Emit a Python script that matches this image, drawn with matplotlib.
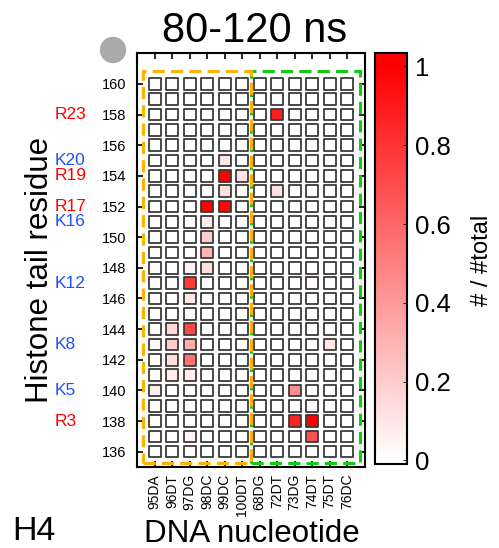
import numpy as np
import matplotlib
matplotlib.use('Agg')
import matplotlib.pyplot as plt
from matplotlib.colors import LinearSegmentedColormap, Normalize
from matplotlib.patches import Rectangle, Ellipse
from matplotlib.cm import ScalarMappable


# -------------------------------------------------------------------------
# Data
# -------------------------------------------------------------------------
nucleotides = ['95DA', '96DT', '97DG', '98DC', '99DC', '100DT',
               '68DG', '72DT', '73DG', '74DT', '75DT', '76DC']
residues = list(range(136, 161))

# non-zero contacts (residue, nucleotide, fraction)
hit_residue = [158, 158, 155, 154, 154, 153, 153, 153, 152, 152,
               151, 150, 149, 148, 148, 147, 147, 147, 146, 145,
               144, 144, 143, 143, 143, 143, 142, 142, 141, 141,
               140, 140, 140, 139, 138, 138, 137, 137]
hit_nucleotide = ['72DT', '73DG', '99DC', '99DC', '100DT', '99DC', '98DC', '72DT', '98DC', '99DC',
                  '98DC', '98DC', '98DC', '97DG', '98DC', '97DG', '96DT', '74DT', '97DG', '97DG',
                  '96DT', '97DG', '95DA', '96DT', '97DG', '75DT', '96DT', '97DG', '96DT', '97DG',
                  '95DA', '73DG', '74DT', '74DT', '73DG', '74DT', '97DG', '74DT']
hit_value = [0.88, 0.02, 0.10, 1.00, 0.12, 0.12, 0.01, 0.12, 1.00, 0.98,
             0.08, 0.20, 0.30, 0.05, 0.13, 0.78, 0.02, 0.03, 0.10, 0.03,
             0.16, 0.72, 0.02, 0.20, 0.32, 0.10, 0.13, 0.55, 0.07, 0.07,
             0.06, 0.45, 0.01, 0.03, 0.87, 1.00, 0.04, 0.68]

cbar_ticks = [0, 0.2, 0.4, 0.6, 0.8, 1]
cbar_ticklabels = ['0', '0.2', '0.4', '0.6', '0.8', '1']

tail_labels = ['R3', 'K5', 'K8', 'K12', 'K16', 'R17', 'R19', 'K20', 'R23']
tail_residue = [3, 5, 8, 12, 16, 17, 19, 20, 23]
tail_offset = 135


def main():
  plt.rcParams['font.family'] = ['Liberation Sans', 'DejaVu Sans']

  W, H = 499, 548
  fig = plt.figure(figsize=(W / 100, H / 100), dpi=100)

  def fx(px):
    return px / W

  def fy(py):
    return 1 - py / H

  # grid of values
  grid = np.zeros((len(residues), len(nucleotides)))
  for r, n, v in zip(hit_residue, hit_nucleotide, hit_value):
    grid[residues.index(r), nucleotides.index(n)] = v

  vmin, vmax = -0.01, 1.035
  p0 = (0 - vmin) / (vmax - vmin)
  p1 = (1 - vmin) / (vmax - vmin)
  cmap = LinearSegmentedColormap.from_list(
    'wr', [(0, 'white'), (p0, 'white'), (p1, '#ff0000'), (1, '#ff0000')])
  norm = Normalize(vmin=vmin, vmax=vmax)

  # -------------------------------------------------------------------------
  # Main panel
  # -------------------------------------------------------------------------
  ax = fig.add_axes([fx(137.3), fy(467), fx(364.7) - fx(137.3), fy(53.3) - fy(467)])
  xx, yy = np.meshgrid(np.arange(len(nucleotides)), residues)
  ax.scatter(xx.ravel(), yy.ravel(), c=grid.ravel(), cmap=cmap, norm=norm,
             marker='s', s=70, edgecolors='#3a3a3a', linewidths=1.3, zorder=2)

  ax.set_xlim(-1, 12)
  ax.set_ylim(135, 162)
  ax.set_xticks(range(len(nucleotides)))
  ax.set_xticklabels(nucleotides, rotation=90, fontsize=10)
  ax.set_yticks(residues[::2])
  ax.set_yticklabels([str(r) for r in residues[::2]], fontsize=10.5)
  ax.tick_params(direction='in', top=True, right=True, length=4, width=1.2)
  ax.tick_params(axis='y', pad=8)
  ax.tick_params(axis='x', pad=5)
  for sp in ax.spines.values():
    sp.set_linewidth(1.5)

  # dashed boxes
  ax.add_patch(Rectangle((5.5, 135.28), 11.75 - 5.5, 160.85 - 135.28, fill=False,
                         edgecolor='#11cc11', lw=2.2, ls=(0, (4, 2)), zorder=3))
  ax.add_patch(Rectangle((-0.66, 135.28), 5.5 + 0.66, 160.85 - 135.28, fill=False,
                         edgecolor='#ffb000', lw=2.2, ls=(0, (4, 2)), zorder=4))

  # histone tail residue names
  for lab, n in zip(tail_labels, tail_residue):
    col = '#ff0000' if lab.startswith('R') else '#1f4fff'
    y_px = ax.transData.transform((0, tail_offset + n))[1]
    fig.text(fx(55), y_px / H, lab, color=col, fontsize=12.5, ha='left', va='center')

  # -------------------------------------------------------------------------
  # Colorbar
  # -------------------------------------------------------------------------
  cax = fig.add_axes([fx(375), fy(464.3), fx(406.7) - fx(375), fy(52.7) - fy(464.3)])
  cb = fig.colorbar(ScalarMappable(norm=norm, cmap=cmap), cax=cax)
  cb.set_ticks(cbar_ticks)
  cb.set_ticklabels(cbar_ticklabels)
  cb.ax.tick_params(labelsize=18.5, direction='in', length=3, width=0.6, pad=6)
  cb.outline.set_linewidth(1.5)
  fig.text(fx(482), fy(260), '# / #total', rotation=90, fontsize=17, ha='center', va='center')

  # -------------------------------------------------------------------------
  # Texts
  # -------------------------------------------------------------------------
  fig.text(fx(255), fy(42), '80-120 ns', fontsize=30, ha='center', va='baseline')
  fig.text(fx(40), fy(270), 'Histone tail residue', rotation=90, fontsize=22.5,
           ha='center', va='center')
  fig.text(fx(251.5), fy(542), 'DNA nucleotide', fontsize=22.5, ha='center', va='baseline')
  fig.text(fx(12), fy(540), 'H4', fontsize=24.5, ha='left', va='baseline')

  fig.add_artist(Ellipse((fx(113), fy(50)), 25 / W, 25 / H, transform=fig.transFigure,
                         color='#aaaaaa'))

  fig.savefig('out.png', dpi=100)


if __name__ == "__main__":
  main()
